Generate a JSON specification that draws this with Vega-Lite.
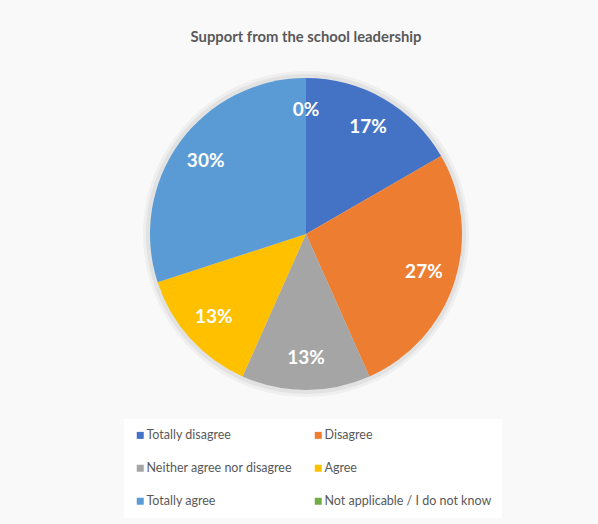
{
  "$schema": "https://vega.github.io/schema/vega-lite/v6.json",
  "width": 312,
  "height": 312,
  "autosize": {"type": "none"},
  "padding": {"left": 150, "top": 78, "right": 136, "bottom": 134},
  "background": "#f9f9f9",
  "title": {
    "text": "Support from the school leadership",
    "font": "Lato",
    "fontSize": 14.8,
    "fontWeight": "bold",
    "color": "#595959",
    "anchor": "middle",
    "offset": 26
  },
  "data": {
    "values": [
      {"response": "Totally disagree", "share": 0.1667, "order": 1},
      {"response": "Disagree", "share": 0.2667, "order": 2},
      {"response": "Neither agree nor disagree", "share": 0.1333, "order": 3},
      {"response": "Agree", "share": 0.1333, "order": 4},
      {"response": "Totally agree", "share": 0.3, "order": 5},
      {"response": "Not applicable / I do not know", "share": 0, "order": 6}
    ]
  },
  "encoding": {
    "theta": {"field": "share", "type": "quantitative", "stack": true},
    "order": {"field": "order", "type": "quantitative"},
    "color": {
      "field": "response",
      "type": "nominal",
      "scale": {
        "domain": ["Totally disagree", "Disagree", "Neither agree nor disagree", "Agree", "Totally agree", "Not applicable / I do not know"],
        "range": ["#4472C4", "#ED7D31", "#A5A5A5", "#FFC000", "#5B9BD5", "#70AD47"]
      },
      "legend": {
        "title": null,
        "orient": "none",
        "direction": "horizontal",
        "legendX": -26,
        "legendY": 341,
        "columns": 2,
        "columnPadding": 19,
        "rowPadding": 20,
        "symbolType": "square",
        "symbolSize": 49,
        "symbolStrokeWidth": 0,
        "symbolOpacity": 1,
        "labelFont": "Lato",
        "labelFontSize": 12.5,
        "labelColor": "#595959",
        "labelOffset": 0,
        "labelLimit": 300,
        "fillColor": "#ffffff",
        "padding": 10
      }
    }
  },
  "layer": [
    {
      "mark": {"type": "arc", "outerRadius": 163, "opacity": 0.04},
      "encoding": {"color": {"value": "#000000"}}
    },
    {
      "mark": {"type": "arc", "outerRadius": 160, "opacity": 0.05},
      "encoding": {"color": {"value": "#000000"}}
    },
    {
      "mark": {"type": "arc", "outerRadius": 156, "stroke": null}
    },
    {
      "mark": {"type": "text", "radius": 124, "font": "Lato", "fontSize": 19, "fontWeight": "bold"},
      "encoding": {
        "text": {"field": "share", "type": "quantitative", "format": ".0%"},
        "color": {"value": "#ffffff"}
      }
    }
  ],
  "config": {"view": {"stroke": null}}
}
